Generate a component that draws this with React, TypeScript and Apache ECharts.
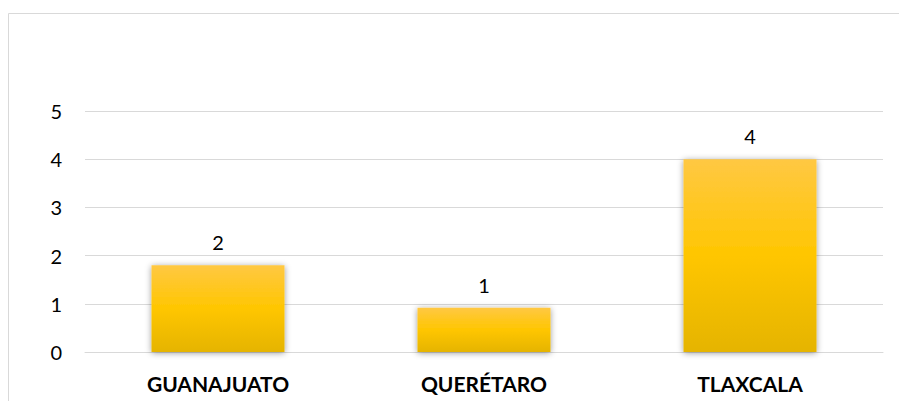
import React, { useEffect, useRef } from "react";
import * as echarts from "echarts";

const categories = ["GUANAJUATO", "QUERÉTARO", "TLAXCALA"];
const values = [1.8, 0.92, 4];
const yTicks = [0, 1, 2, 3, 4, 5];

export default function App() {
  const ref = useRef<HTMLDivElement>(null);
  useEffect(() => {
    if (!ref.current) return;
    const chart = echarts.init(ref.current, null, { renderer: "svg" });
    chart.setOption({
      animation: false,
      graphic: [
        {
          type: "rect",
          shape: { x: 8.5, y: 13.5, width: 1000, height: 600 },
          style: { fill: "none", stroke: "#D9D9D9", lineWidth: 1 },
          silent: true,
        },
      ],
      grid: { left: 85, right: 16, top: 111, bottom: 49, containLabel: false },
      xAxis: {
        type: "category",
        data: categories,
        axisLine: { show: true, lineStyle: { color: "#D9D9D9", width: 1 } },
        axisTick: { show: false },
        axisLabel: {
          margin: 21,
          fontFamily: "Lato",
          fontWeight: "bold",
          fontSize: 21,
          color: "#000000",
        },
      },
      yAxis: {
        type: "value",
        min: yTicks[0],
        max: yTicks[yTicks.length - 1],
        interval: 1,
        axisLine: { show: false },
        axisTick: { show: false },
        splitLine: { lineStyle: { color: "#D9D9D9", width: 1 } },
        axisLabel: {
          margin: 23,
          fontFamily: "Lato",
          fontSize: 20,
          color: "#000000",
        },
      },
      series: [
        {
          type: "bar",
          data: values,
          barWidth: "50%",
          itemStyle: {
            color: new echarts.graphic.LinearGradient(0, 0, 0, 1, [
              { offset: 0, color: "#FFC843" },
              { offset: 0.5, color: "#FFC600" },
              { offset: 1, color: "#E5B400" },
            ]),
            shadowColor: "rgba(0,0,0,0.4)",
            shadowBlur: 6,
            shadowOffsetX: 0,
            shadowOffsetY: 1,
          },
          label: {
            show: true,
            position: "top",
            distance: 13,
            fontFamily: "Lato",
            fontSize: 20,
            color: "#000000",
            formatter: (p: any) => String(Math.round(p.value)),
          },
        },
      ],
    });
    return () => chart.dispose();
  }, []);
  return (
    <div
      ref={ref}
      style={{ position: "absolute", left: 0, top: 0, width: 899, height: 401, background: "#ffffff" }}
    />
  );
}
